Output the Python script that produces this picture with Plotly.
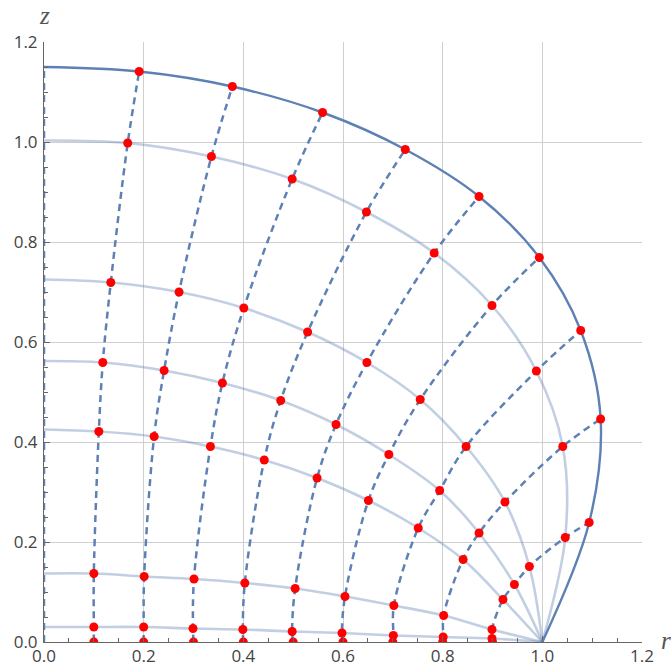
import plotly.graph_objects as go

# ---- data ----
tick_vals = [0.0, 0.2, 0.4, 0.6, 0.8, 1.0, 1.2]
tick_text = ["0.0", "0.2", "0.4", "0.6", "0.8", "1.0", "1.2"]

# heights of the level curves on the symmetry axis (r = 0), level 0 .. outer
z_on_axis = [0.000, 0.030, 0.137, 0.425, 0.562, 0.725, 1.003, 1.150]
# common point where every level curve ends
ring_r = [1.0]
ring_z = [0.0]

# dashed curves: points (level 0 .. outer) for starting radius 0.1 .. 0.9
r_c1 = [0.100, 0.100, 0.100, 0.110, 0.118, 0.134, 0.168, 0.191]
z_c1 = [0.000, 0.030, 0.137, 0.421, 0.559, 0.719, 0.998, 1.141]
r_c2 = [0.200, 0.200, 0.201, 0.221, 0.241, 0.271, 0.336, 0.378]
z_c2 = [0.000, 0.030, 0.131, 0.411, 0.543, 0.700, 0.971, 1.111]
r_c3 = [0.300, 0.299, 0.301, 0.334, 0.358, 0.401, 0.498, 0.559]
z_c3 = [0.000, 0.027, 0.126, 0.391, 0.518, 0.668, 0.926, 1.059]
r_c4 = [0.400, 0.399, 0.403, 0.442, 0.475, 0.529, 0.647, 0.725]
z_c4 = [0.000, 0.025, 0.118, 0.364, 0.483, 0.620, 0.860, 0.985]
r_c5 = [0.500, 0.498, 0.504, 0.548, 0.586, 0.648, 0.783, 0.873]
z_c5 = [0.000, 0.021, 0.107, 0.328, 0.435, 0.559, 0.778, 0.891]
r_c6 = [0.600, 0.598, 0.604, 0.651, 0.692, 0.755, 0.899, 0.994]
z_c6 = [0.000, 0.018, 0.091, 0.283, 0.375, 0.485, 0.673, 0.769]
r_c7 = [0.700, 0.701, 0.702, 0.751, 0.794, 0.847, 0.988, 1.077]
z_c7 = [0.000, 0.013, 0.073, 0.228, 0.303, 0.391, 0.542, 0.623]
r_c8 = [0.800, 0.801, 0.802, 0.841, 0.873, 0.925, 1.041, 1.117]
z_c8 = [0.000, 0.010, 0.053, 0.165, 0.218, 0.280, 0.391, 0.446]
r_c9 = [0.900, 0.899, 0.899, 0.921, 0.944, 0.974, 1.046, 1.094]
z_c9 = [0.000, 0.007, 0.025, 0.085, 0.115, 0.151, 0.209, 0.239]

cols_r = [r_c1, r_c2, r_c3, r_c4, r_c5, r_c6, r_c7, r_c8, r_c9]
cols_z = [z_c1, z_c2, z_c3, z_c4, z_c5, z_c6, z_c7, z_c8, z_c9]

# ---- styles ----
BLUE = "rgb(94,129,181)"
LIGHT = "rgba(94,129,181,0.38)"
AXIS = "#666666"
GRID = "#cfcfcf"
DASH = "7px,5px"

fig = go.Figure()

n_levels = len(z_on_axis)
# light level curves (levels 1..6)
for k in range(1, n_levels - 1):
    rs = [0.0] + [c[k] for c in cols_r] + ring_r
    zs = [z_on_axis[k]] + [c[k] for c in cols_z] + ring_z
    fig.add_trace(go.Scatter(x=rs, y=zs, mode="lines",
                             line=dict(color=LIGHT, width=2.6, shape="spline", smoothing=1.0),
                             hoverinfo="skip", showlegend=False))

# outer boundary (dark)
k = n_levels - 1
rs = [0.0] + [c[k] for c in cols_r] + ring_r
zs = [z_on_axis[k]] + [c[k] for c in cols_z] + ring_z
fig.add_trace(go.Scatter(x=rs, y=zs, mode="lines",
                         line=dict(color=BLUE, width=2.4, shape="spline", smoothing=1.0),
                         hoverinfo="skip", showlegend=False))

# dashed curves: the axis one, then the nine others
fig.add_trace(go.Scatter(x=[0.0] * n_levels, y=z_on_axis, mode="lines",
                         line=dict(color=BLUE, width=2.5, dash=DASH),
                         hoverinfo="skip", showlegend=False))
for rc, zc in zip(cols_r, cols_z):
    fig.add_trace(go.Scatter(x=rc, y=zc, mode="lines",
                             line=dict(color=BLUE, width=2.5, dash=DASH,
                                       shape="spline", smoothing=1.0),
                             hoverinfo="skip", showlegend=False))

# red points
all_r = [v for c in cols_r for v in c]
all_z = [v for c in cols_z for v in c]
fig.add_trace(go.Scatter(x=all_r, y=all_z, mode="markers",
                         marker=dict(color="red", size=9, line=dict(width=0)),
                         cliponaxis=True, hoverinfo="skip", showlegend=False))

axis_common = dict(
    range=[0, 1.2], tickvals=tick_vals, ticktext=tick_text,
    showgrid=True, gridcolor=GRID, gridwidth=1,
    showline=True, linecolor=AXIS, linewidth=1, mirror=False,
    ticks="inside", ticklen=6, tickwidth=1, tickcolor=AXIS,
    minor=dict(dtick=0.05, ticks="inside", ticklen=4, tickwidth=1,
               tickcolor=AXIS, showgrid=False),
    zeroline=False, fixedrange=True, automargin=False,
    tickfont=dict(family="Open Sans, sans-serif", size=17, color="#444444"),
)

fig.update_layout(
    width=672, height=668,
    margin=dict(l=44, r=30, t=42, b=26),
    paper_bgcolor="white", plot_bgcolor="white",
    xaxis=dict(**axis_common, ticklabelstandoff=-1),
    yaxis=dict(**axis_common, ticklabelstandoff=2),
    annotations=[
        dict(text="<i>z</i>", xref="paper", yref="paper", x=0.0, y=1.045,
             xanchor="center", yanchor="middle", showarrow=False,
             font=dict(family="Liberation Serif, serif", size=25, color="#555555")),
        dict(text="<i>r</i>", xref="paper", yref="paper", x=1.04, y=0.003,
             xanchor="center", yanchor="middle", showarrow=False,
             font=dict(family="Liberation Serif, serif", size=25, color="#555555")),
    ],
)

fig.write_html("out.html")
